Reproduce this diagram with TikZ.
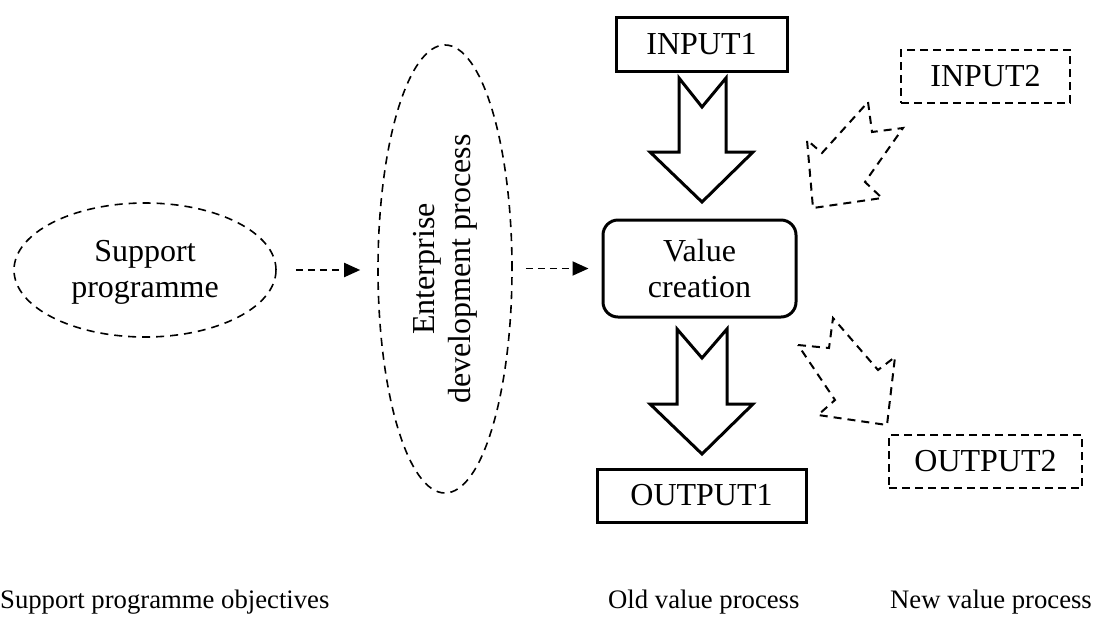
\documentclass[tikz,border=0pt]{standalone}
\usepackage{fontspec}
\setmainfont{Liberation Serif}
\usepackage{graphicx}
\usetikzlibrary{shapes.geometric,arrows.meta}
\begin{document}
\begin{tikzpicture}[x=1pt,y=-1pt,
  lbl/.style={font=\fontsize{32}{36}\selectfont},
  solidbox/.style={draw, line width=3pt, inner sep=0pt, lbl},
  dashbox/.style={draw, line width=1.8pt, dash pattern=on 8pt off 5pt, inner sep=0pt, lbl},
  dashell/.style={draw, ellipse, line width=1.6pt, dash pattern=on 8pt off 6pt, inner sep=0pt, lbl, align=center},
  flow/.style={line width=1.9pt, dash pattern=on 7pt off 5pt, -{Triangle[length=16pt,width=14pt]}},
  hollow/.style={line width=3pt, line join=miter},
  dhollow/.style={line width=2pt, dash pattern=on 8pt off 6pt},
  caption/.style={anchor=base west, font=\fontsize{26.7}{30}\selectfont, inner sep=0pt}]
\useasboundingbox (0,0) rectangle (1097,622);

% nodes
\node[dashell, minimum width=262pt, minimum height=134pt] (sup) at (145,270)
  {\begin{tabular}{@{}c@{}}\rule{0pt}{30pt}Support\\programme\end{tabular}};
\node[dashell, minimum width=134pt, minimum height=448pt] (ent) at (445,269)
  {\rotatebox{90}{\begin{tabular}{@{}c@{}}Enterprise\\development process\end{tabular}}};
\node[solidbox, rounded corners=15pt, minimum width=193pt, minimum height=97pt] (val) at (699.5,268.5)
  {\begin{tabular}{@{}c@{}}\rule{0pt}{33pt}Value\\creation\end{tabular}};
\node[solidbox, minimum width=171pt, minimum height=54pt] (in1) at (701.5,44) {INPUT1};
\node[solidbox, minimum width=209pt, minimum height=53pt] (out1) at (701.5,495.5) {OUTPUT1};
\node[dashbox, minimum width=169pt, minimum height=53pt] (in2) at (985.5,76.5) {INPUT2};
\node[dashbox, minimum width=193pt, minimum height=53pt] (out2) at (985.5,461.5) {OUTPUT2};

% connectors
\draw[flow, shorten <=19pt, shorten >=17pt] (sup.east) -- (sup.east -| ent.west);
\draw[flow, shorten <=13pt, shorten >=13pt] (ent.east |- val.west) -- (val.west);

% solid hollow arrows
\draw[hollow] (679,78) -- (702,107) -- (726,78) -- (726,152) -- (753,152) -- (702,202) -- (650,152) -- (679,152) -- cycle;
\draw[hollow] (677,329) -- (702,358) -- (727,329) -- (727,404) -- (753,404) -- (702,454) -- (650,404) -- (677,404) -- cycle;

% dashed hollow arrows
\draw[dhollow] (868,102) -- (872,132) -- (903,128) -- (865,182) -- (882,198) -- (813,208) -- (807,140) -- (822,153) -- cycle;
\draw[dhollow] (798,345) -- (829,348) -- (833,318) -- (878,370) -- (895,357) -- (887,425) -- (818,415) -- (835,400) -- cycle;

% captions
\node[caption] (c1) at (0,608) {Support programme objectives};
\node[caption] (c2) at (608,608) {Old value process};
\node[caption] (c3) at (890,608) {New value process};
\end{tikzpicture}
\end{document}
